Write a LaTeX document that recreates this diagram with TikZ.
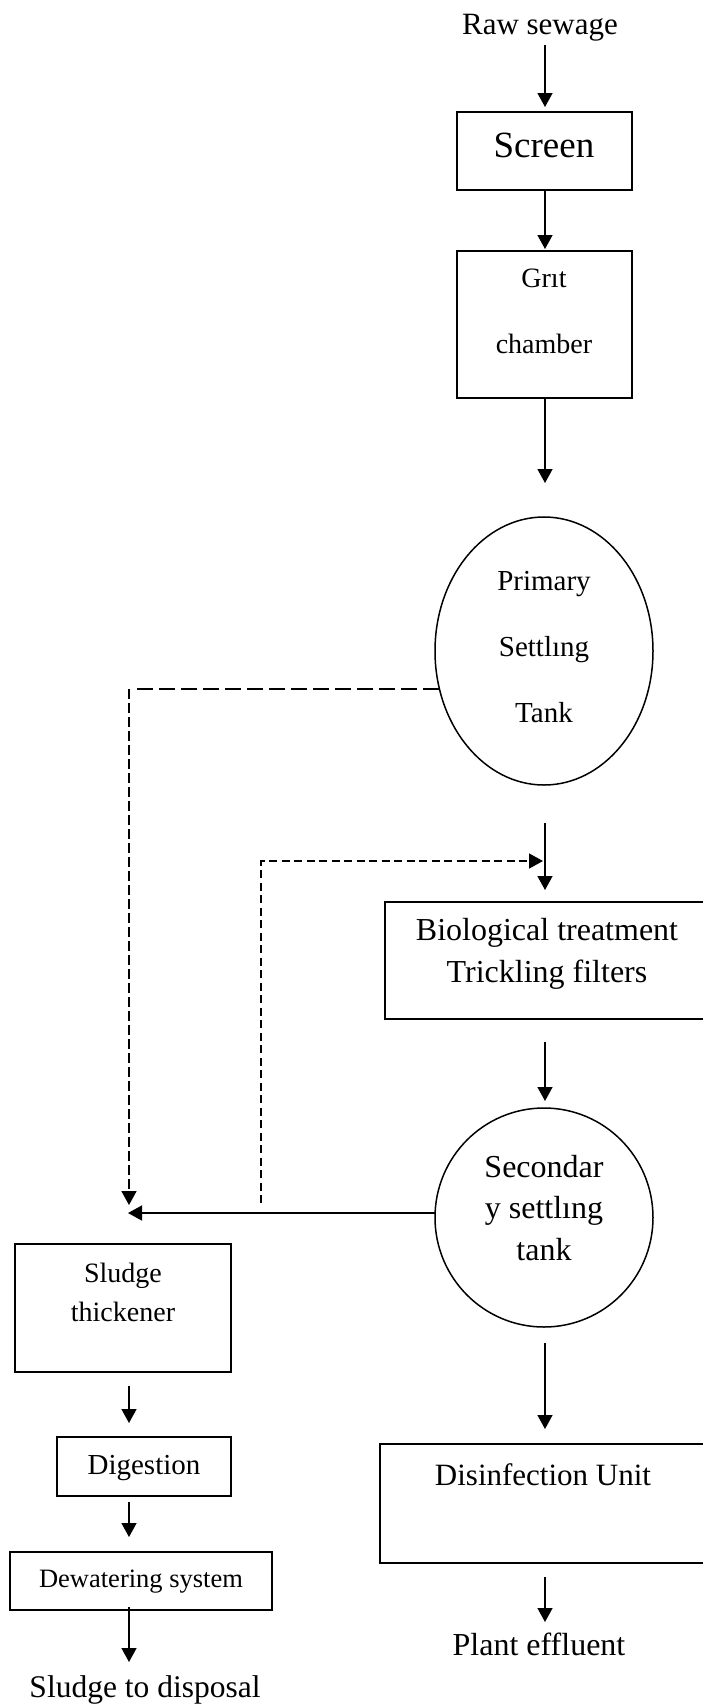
\documentclass[tikz,border=0pt]{standalone}
\usepackage{fontspec}
\setmainfont{Liberation Serif}
\usetikzlibrary{arrows.meta,shapes.geometric,calc}
\tikzset{
  box/.style={draw, line width=1.6pt, inner sep=0pt, outer sep=0pt},
  tank/.style={draw, ellipse, line width=1.5pt, inner sep=0pt, outer sep=0pt},
  txt/.style 2 args={font=\fontsize{#1}{#2}\selectfont, align=center, inner sep=0pt, outer sep=0pt},
  arr/.style={line width=1.5pt, -{Triangle[length=14pt,width=15pt]}},
  bigdash/.style={line width=2.5pt, dash pattern=on 16pt off 6pt},
  smalldash/.style={line width=1.7pt, dash pattern=on 10pt off 4pt},
  finedash/.style={line width=1.6pt, dash pattern=on 8pt off 4.5pt},
}
\begin{document}
\begin{tikzpicture}[x=1pt,y=-1pt]
\useasboundingbox (0,0) rectangle (702,1706);
\fill[white] (0,0) rectangle (702,1706);
\coordinate (ax) at (545,0);
\coordinate (lax) at (129,0);
% main line
\node[txt={31}{37}] (raw) at (540,26.6) {Raw sewage\strut};
\node[box, minimum width=175pt, minimum height=78pt] (screen) at (544.5,151) {};
\node[txt={37}{44}] (screent) at (544,148.2) {Screen\strut};
\node[box, minimum width=175pt, minimum height=147pt] (grit) at (544.5,324.5) {};
\node[txt={28}{66}] (gritt) at (544,306.8) {Grıt\strut\\chamber\strut};
\node[tank, minimum width=218pt, minimum height=268pt] (prim) at (544,651) {};
\node[txt={29}{66}] (primt) at (544,642.8) {Primary\strut\\Settlıng\strut\\Tank\strut};
\node[box, minimum width=320pt, minimum height=117pt] (bio) at (545,960.5) {};
\node[txt={32}{42}] (biot) at (547,952.6) {Biological treatment\strut\\Trickling filters\strut};
\node[tank, minimum width=218pt, minimum height=219pt] (sec) at (544,1217.5) {};
\node[txt={32}{41.5}] (sect) at (544,1210.2) {Secondar\strut\\y settlıng\strut\\tank\strut};
\node[box, minimum width=325pt, minimum height=119pt] (dis) at (542.5,1503.5) {};
\node[txt={31}{37}] (dist) at (543,1477.6) {Disinfection Unit\strut};
\node[txt={32}{38}] (plant) at (539,1647.4) {Plant effluent\strut};
% sludge line
\coordinate (collect) at (129,1213);
\node[box, minimum width=216pt, minimum height=128pt] (thick) at (123,1308) {};
\node[txt={28}{39}] (thickt) at (123,1293.7) {Sludge\strut\\thickener\strut};
\node[box, minimum width=174pt, minimum height=59pt] (dig) at (144,1466.5) {};
\node[txt={29}{35}] (digt) at (144,1467) {Digestion\strut};
\node[box, minimum width=262pt, minimum height=58pt] (dew) at (141,1581) {};
\node[txt={26.5}{32}] (dewt) at (141,1580.6) {Dewatering system\strut};
\node[txt={31.5}{38}] (disp) at (145,1689.4) {Sludge to disposal\strut};
% connectors, main line
\draw[arr] (raw.south -| ax) -- ([yshift=5pt]screen.north -| ax);
\draw[arr] (screen.south -| ax) -- ([yshift=2pt]grit.north -| ax);
\draw[arr, shorten >=34pt] (grit.south -| ax) -- (prim.north -| ax);
\draw[arr, shorten <=38pt, shorten >=12pt] (prim.south -| ax) -- (bio.north -| ax);
\draw[arr, shorten <=23pt, shorten >=7pt] (bio.south -| ax) -- (sec.north -| ax);
\draw[arr, shorten <=16pt, shorten >=15pt] (sec.south -| ax) -- (dis.north -| ax);
\draw[arr, shorten <=14pt, shorten >=6.4pt] (dis.south -| ax) -- (plant.north -| ax);
% sludge connectors
\coordinate (pl) at (prim.200.6);
\coordinate (c1) at (pl -| collect);
\draw[bigdash] (pl) -- ([xshift=6pt]c1);
\draw[smalldash, -{Triangle[length=14pt,width=15pt]}, shorten >=8pt] (c1) -- (collect);
\draw[arr, shorten >=-1pt] ([yshift=4.5pt]sec.west) -- (collect);
\coordinate (r0) at (261,1203);
\coordinate (r1) at (261,861);
\coordinate (r2) at (545,861);
\draw[finedash, -{Triangle[length=14pt,width=15pt]}, shorten >=2pt] (r0) -- (r1) -- (r2);
\draw[arr, shorten <=14pt, shorten >=14pt] (thick.south -| lax) -- (dig.north -| lax);
\draw[arr, shorten <=6pt, shorten >=15pt] (dig.south -| lax) -- (dew.north -| lax);
\draw[arr, shorten <=-3pt, shorten >=8.4pt] (dew.south -| lax) -- (disp.north -| lax);
\end{tikzpicture}
\end{document}
